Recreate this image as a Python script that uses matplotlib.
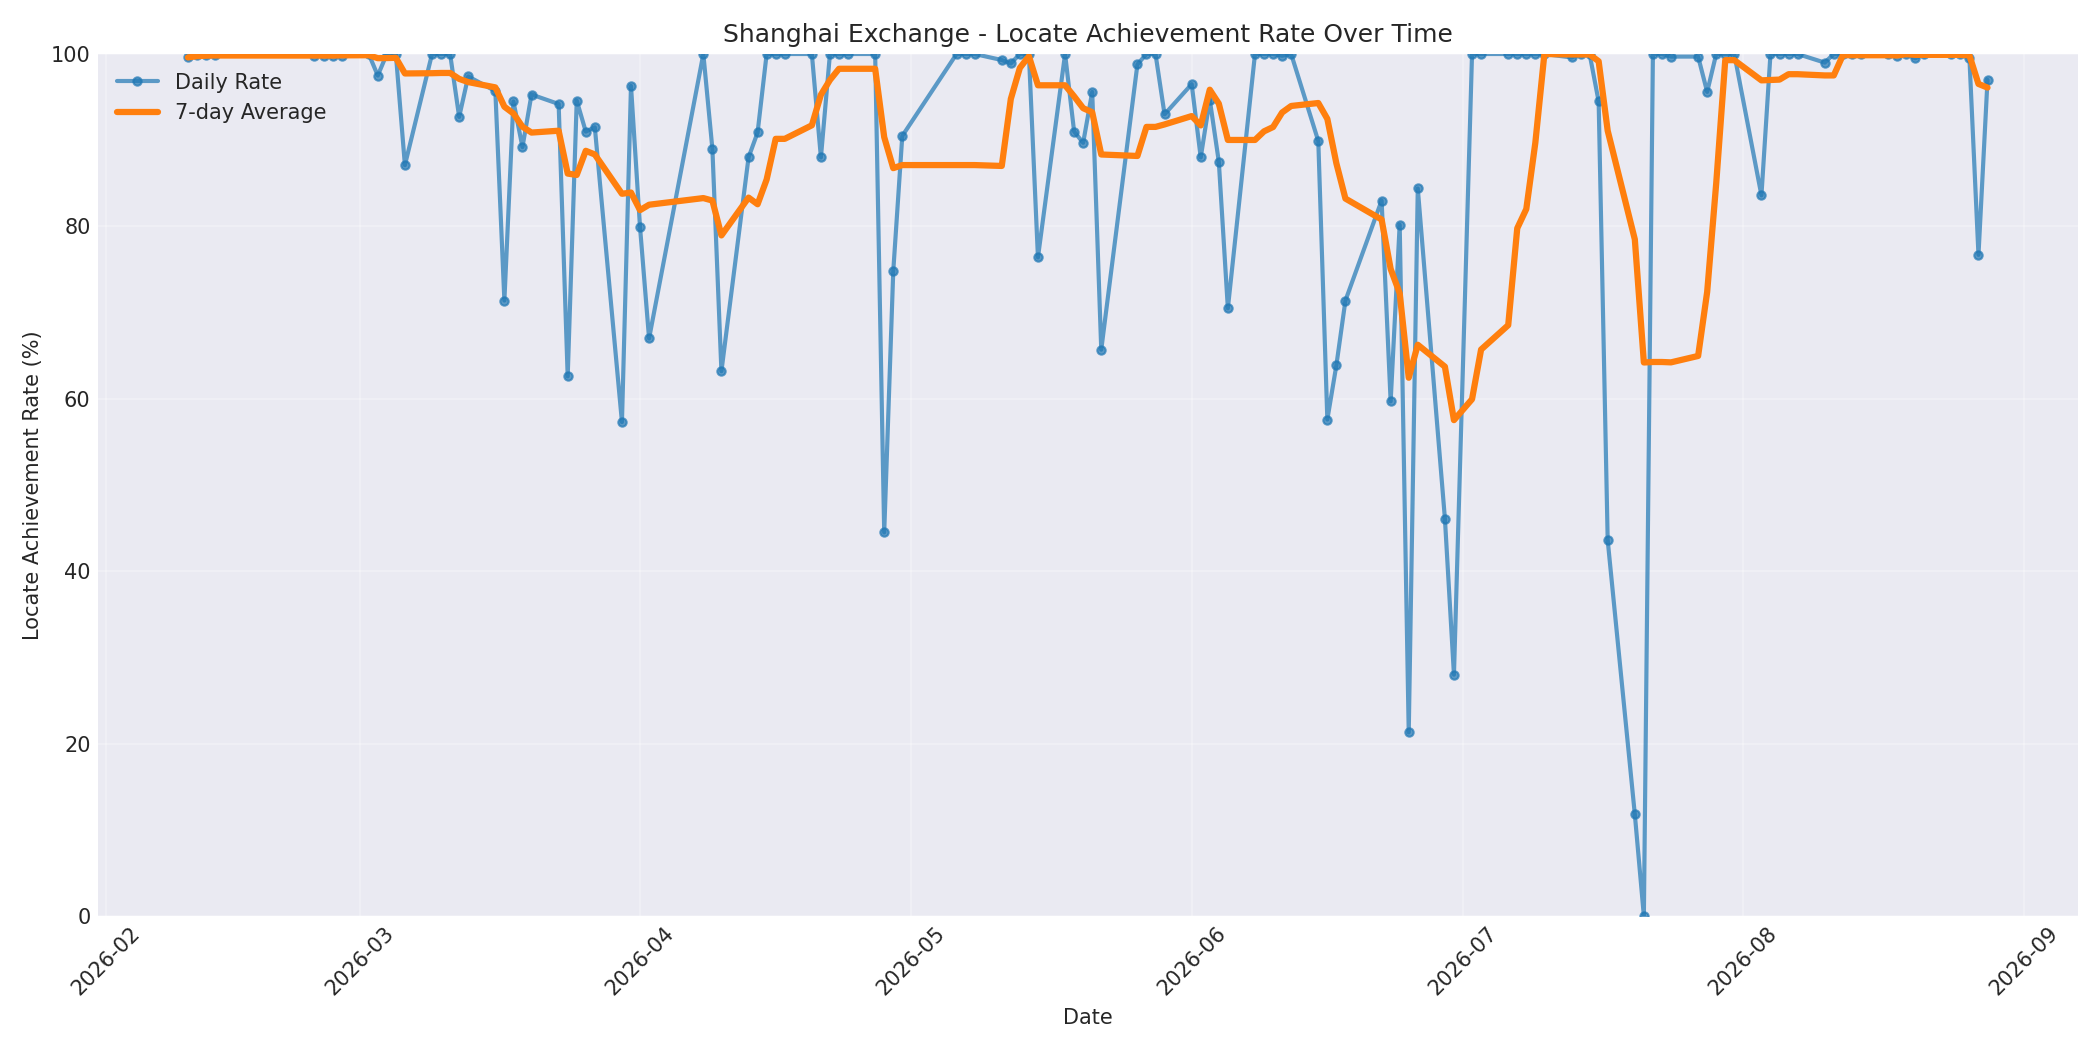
import matplotlib
matplotlib.use("Agg")
import matplotlib.pyplot as plt
import matplotlib.dates as mdates
import pandas as pd

dates = [
    "2026-02-10", "2026-02-11", "2026-02-12", "2026-02-13",
    "2026-02-24", "2026-02-25", "2026-02-26", "2026-02-27",
    "2026-03-02", "2026-03-03", "2026-03-04", "2026-03-05", "2026-03-06",
    "2026-03-09", "2026-03-10", "2026-03-11", "2026-03-12", "2026-03-13",
    "2026-03-16", "2026-03-17", "2026-03-18", "2026-03-19", "2026-03-20",
    "2026-03-23", "2026-03-24", "2026-03-25", "2026-03-26", "2026-03-27",
    "2026-03-30", "2026-03-31", "2026-04-01", "2026-04-02",
    "2026-04-08", "2026-04-09", "2026-04-10",
    "2026-04-13", "2026-04-14", "2026-04-15", "2026-04-16", "2026-04-17",
    "2026-04-20", "2026-04-21", "2026-04-22", "2026-04-23", "2026-04-24",
    "2026-04-27", "2026-04-28", "2026-04-29", "2026-04-30",
    "2026-05-06", "2026-05-07", "2026-05-08",
    "2026-05-11", "2026-05-12", "2026-05-13", "2026-05-14", "2026-05-15",
    "2026-05-18", "2026-05-19", "2026-05-20", "2026-05-21", "2026-05-22",
    "2026-05-26", "2026-05-27", "2026-05-28", "2026-05-29",
    "2026-06-01", "2026-06-02", "2026-06-03", "2026-06-04", "2026-06-05",
    "2026-06-08", "2026-06-09", "2026-06-10", "2026-06-11", "2026-06-12",
    "2026-06-15", "2026-06-16", "2026-06-17", "2026-06-18",
    "2026-06-22", "2026-06-23", "2026-06-24", "2026-06-25", "2026-06-26",
    "2026-06-29", "2026-06-30", "2026-07-02", "2026-07-03",
    "2026-07-06", "2026-07-07", "2026-07-08", "2026-07-09", "2026-07-10",
    "2026-07-13", "2026-07-14", "2026-07-15", "2026-07-16", "2026-07-17",
    "2026-07-20", "2026-07-21", "2026-07-22", "2026-07-23", "2026-07-24",
    "2026-07-27", "2026-07-28", "2026-07-29", "2026-07-30", "2026-07-31",
    "2026-08-03", "2026-08-04", "2026-08-05", "2026-08-06", "2026-08-07",
    "2026-08-10", "2026-08-11", "2026-08-12", "2026-08-13", "2026-08-14",
    "2026-08-17", "2026-08-18", "2026-08-19", "2026-08-20", "2026-08-21",
    "2026-08-24", "2026-08-25", "2026-08-26", "2026-08-27", "2026-08-28",
]

daily_rate = [
    99.6, 99.9, 99.9, 99.9,
    99.8, 99.8, 99.8, 99.8,
    100.0, 97.5, 100.0, 100.0, 87.1,
    100.0, 100.0, 100.0, 92.7, 97.4,
    95.7, 71.4, 94.5, 89.2, 95.3,
    94.2, 62.6, 94.6, 91.0, 91.5,
    57.3, 96.3, 79.9, 67.0,
    100.0, 89.0, 63.2,
    88.0, 90.9, 100.0, 100.0, 100.0,
    100.0, 88.0, 100.0, 100.0, 100.0,
    100.0, 44.5, 74.8, 90.5,
    100.0, 100.0, 100.0,
    99.3, 98.9, 100.0, 100.0, 76.4,
    100.0, 91.0, 89.7, 95.6, 65.7,
    98.8, 100.0, 100.0, 93.0,
    96.5, 88.0, 94.7, 87.5, 70.5,
    100.0, 100.0, 100.0, 99.8, 100.0,
    89.9, 57.6, 63.9, 71.4,
    83.0, 59.7, 80.2, 21.3, 84.4,
    46.1, 28.0, 100.0, 100.0,
    100.0, 100.0, 100.0, 100.0, 100.0,
    99.6, 100.0, 100.0, 94.5, 43.6,
    11.8, 0.0, 100.0, 100.0, 99.7,
    99.7, 95.6, 100.0, 100.0, 100.0,
    83.6, 100.0, 100.0, 100.0, 100.0,
    99.0, 100.0, 100.0, 100.0, 100.0,
    100.0, 99.8, 100.0, 99.5, 100.0,
    100.0, 100.0, 99.5, 76.7, 97.0,
]

title = "Shanghai Exchange - Locate Achievement Rate Over Time"
x_label = "Date"
y_label = "Locate Achievement Rate (%)"
legend_labels = ["Daily Rate", "7-day Average"]

df = pd.DataFrame({"date": pd.to_datetime(dates), "rate": daily_rate})
df["avg7"] = df["rate"].rolling(7, min_periods=1).mean()

plt.style.use("seaborn-v0_8-darkgrid")
plt.rcParams["font.family"] = ["DejaVu Sans"]

fig, ax = plt.subplots(figsize=(14, 7), dpi=150)
ax.plot(df["date"], df["rate"], marker="o", markersize=4, linewidth=2,
        alpha=0.7, color="#1f77b4", label=legend_labels[0])
ax.plot(df["date"], df["avg7"], linewidth=3, color="#ff7f0e",
        label=legend_labels[1])

ax.set_ylim(0, 100)
ax.set_title(title, fontsize=12)
ax.set_xlabel(x_label, fontsize=10)
ax.set_ylabel(y_label, fontsize=10)
ax.xaxis.set_major_locator(mdates.MonthLocator())
ax.xaxis.set_major_formatter(mdates.DateFormatter("%Y-%m"))
ax.tick_params(axis="both", labelsize=10)
plt.setp(ax.get_xticklabels(), rotation=45)
ax.grid(True, alpha=0.3)
ax.legend(loc="upper left", frameon=False, fontsize=10)

fig.tight_layout()
fig.savefig("out.png", dpi=150)
